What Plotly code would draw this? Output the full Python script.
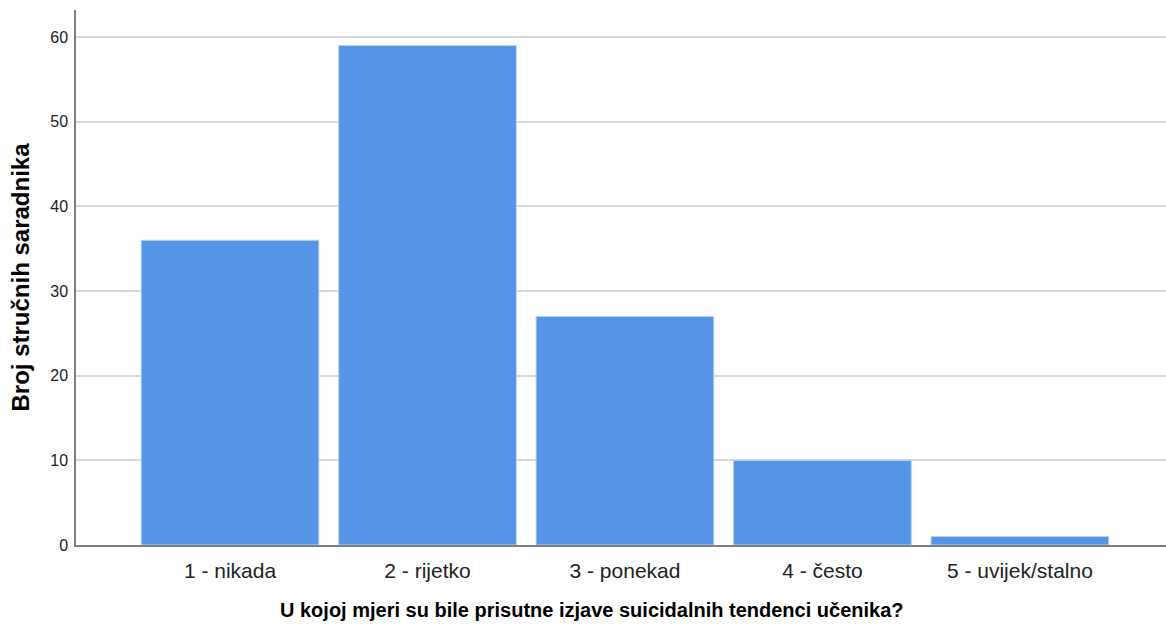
import plotly.graph_objects as go

categories = ["1 - nikada", "2 - rijetko", "3 - ponekad", "4 - često", "5 - uvijek/stalno"]
counts = [36, 59, 27, 10, 1]
y_ticks = [0, 10, 20, 30, 40, 50, 60]
x_title = "U kojoj mjeri su bile prisutne izjave suicidalnih tendenci učenika?"
y_title = "Broj stručnih saradnika"

x_pos = list(range(len(categories)))

fig = go.Figure(
    go.Bar(
        x=x_pos,
        y=counts,
        width=0.9,
        marker=dict(color="#5595e5", line=dict(color="#b9d3f4", width=1)),
        hoverinfo="skip",
    )
)

fig.update_layout(
    width=1166,
    height=626,
    margin=dict(l=76, r=0, t=10, b=81),
    plot_bgcolor="white",
    paper_bgcolor="white",
    font=dict(family="Liberation Sans, Arial, sans-serif", color="#222222"),
    showlegend=False,
    bargap=0.1,
)

# x-axis title centred under the bars rather than the full plot width
fig.add_annotation(
    text=f"<b>{x_title}</b>",
    xref="paper", yref="paper",
    x=0.473, y=-0.122,
    xanchor="center", yanchor="middle",
    showarrow=False,
    font=dict(size=20, color="#000000"),
)

fig.update_xaxes(
    range=[-0.78, 4.74],
    tickmode="array",
    tickvals=x_pos,
    ticktext=categories,
    tickfont=dict(size=21, color="#222222"),
    showgrid=False,
    showline=True,
    linecolor="#7f7f7f",
    linewidth=1.5,
    ticks="outside",
    ticklen=6,
    tickcolor="rgba(0,0,0,0)",
)

fig.update_yaxes(
    range=[0, 63.2],
    tickmode="array",
    tickvals=y_ticks,
    tickfont=dict(size=16, color="#222222"),
    showgrid=True,
    gridcolor="#d9d9d9",
    gridwidth=1.5,
    showline=True,
    linecolor="#7f7f7f",
    linewidth=1.5,
    ticks="outside",
    ticklen=3,
    tickcolor="rgba(0,0,0,0)",
    zeroline=False,
    title=dict(
        text=f"<b>{y_title}</b>",
        font=dict(size=24, color="#000000"),
        standoff=14,
    ),
)

fig.write_html("out.html")
